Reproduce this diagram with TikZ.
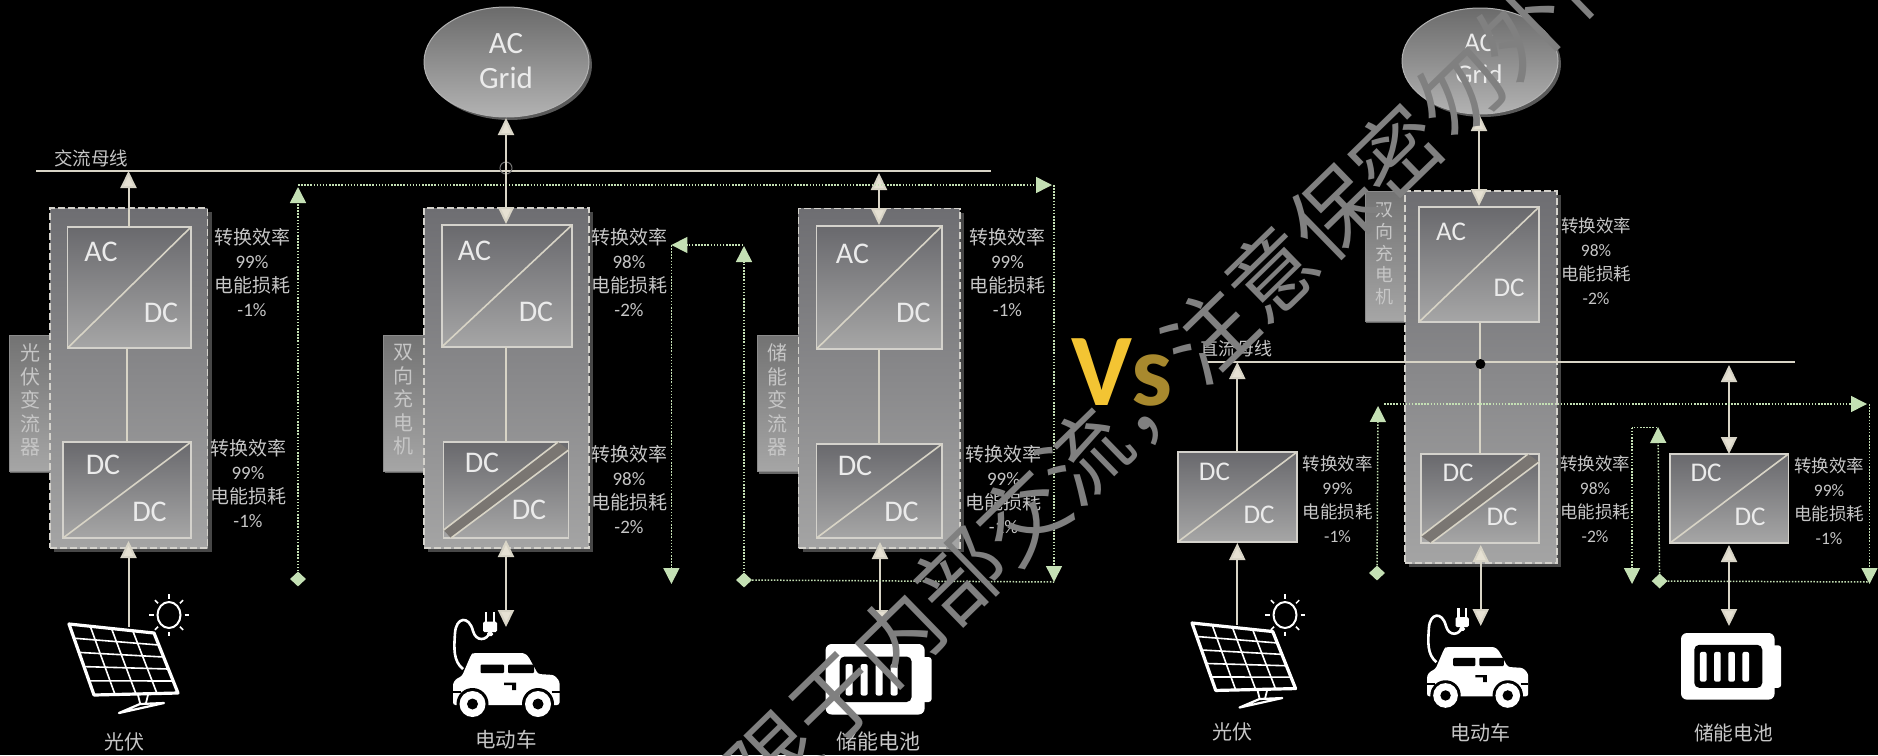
\documentclass[tikz,border=0pt]{standalone}
\usepackage{fontspec}
\setmainfont{Carlito}
\newfontfamily\cjk{Noto Sans CJK SC}
\usetikzlibrary{arrows.meta,calc,shapes.geometric,shadows}
\definecolor{txtc}{HTML}{C6C6C6}
\definecolor{linec}{HTML}{D8D4C6}
\definecolor{tipc}{HTML}{E6E1D3}
\definecolor{grn}{HTML}{C4E0B4}
\definecolor{wmc}{HTML}{808080}
\definecolor{bdr}{HTML}{D4D2CC}
\definecolor{boxtop}{HTML}{69696D}
\definecolor{boxbot}{HTML}{A6A6A6}
\definecolor{bigtop}{HTML}{6E6E72}
\definecolor{bigbot}{HTML}{A4A4A4}
\definecolor{strip}{HTML}{7A7672}
\definecolor{vgold}{HTML}{F3C433}
\definecolor{sgold}{HTML}{A8892E}
\tikzset{
 cbox/.style={rectangle,inner sep=0pt,outer sep=0pt,draw=bdr,line width=1.6pt,top color=boxtop,bottom color=boxbot},
 bigbox/.style={rectangle,inner sep=0pt,outer sep=0pt,draw=bdr,line width=1.4pt,dash pattern=on 7pt off 3pt,drop shadow={shadow xshift=4pt,shadow yshift=-4pt,fill=black!72,opacity=1},top color=bigtop,bottom color=bigbot},
 sidebox/.style={rectangle,inner sep=0pt,outer sep=0pt,draw=black!45,line width=.8pt,drop shadow={shadow xshift=1pt,shadow yshift=-2pt,fill=black!60,opacity=1},top color=black!55,bottom color=black!35},
 gridell/.style={ellipse,inner sep=0pt,outer sep=0pt,draw=black!30,line width=1pt,drop shadow={shadow xshift=3pt,shadow yshift=-3pt,fill=black!65,opacity=1},top color=black!58,bottom color=black!30},
 diag/.style={draw=linec,line width=1.6pt},
 busline/.style={draw=linec,line width=2.4pt},
 pow/.style={draw=linec,line width=2pt,-{Triangle[width=16pt,length=17pt,fill=tipc]}},
 bipow/.style={draw=linec,line width=2pt,{Triangle[width=16pt,length=17pt,fill=tipc]}-{Triangle[width=16pt,length=17pt,fill=tipc]}},
 plainlink/.style={draw=linec,line width=2pt},
 gdot/.style={draw=grn,line width=1.5pt,dash pattern=on 1.5pt off 1.6pt},
 gtip/.style={gdot,-{Triangle[width=16pt,length=16pt,fill=grn,sep=0pt]}},
 gdia/.style={diamond,fill=grn,inner sep=0pt,minimum width=16pt,minimum height=15pt},
 ctext/.style={text=white!92!black,inner sep=0pt,font=\fontsize{30}{32}\selectfont},
 ctext2/.style={text=white!92!black,inner sep=0pt,font=\fontsize{27}{29}\selectfont},
 lbl/.style={text=txtc,inner sep=0pt,align=center},
 solarpic/.pic={
  \coordinate (A) at (0,0);\coordinate (B) at (85,9);\coordinate (C) at (109,69);\coordinate (D) at (25,71);
  \draw[white,line width=3.2pt,line join=round] (A)--(B)--(C)--(D)--cycle;
  \foreach \t in {0.25,0.5,0.75}{\draw[white,line width=1.6pt] ($(A)!\t!(B)$)--($(D)!\t!(C)$);}
  \foreach \t in {0.2,0.4,0.6,0.8}{\draw[white,line width=1.6pt] ($(A)!\t!(D)$)--($(B)!\t!(C)$);}
  \draw[white,line width=1.8pt] (69,71)--(71,79) (79,71)--(77,79);
  \draw[white,line width=2.2pt,line join=round] (71,80)--(95,79)--(50,89)--cycle;
 },
 sunpic/.pic={
  \draw[white,line width=2pt] (0,0) ellipse [x radius=11.5,y radius=13];
  \foreach \a in {0,45,90,135,180,225,270,315}{\draw[white,line width=1.5pt] ({15.5*cos(\a)},{16.5*sin(\a)})--({20*cos(\a)},{21*sin(\a)});}
 },
 carpic/.pic={
  \fill[white,rounded corners=2.5pt] (0,30)--(3,26)--(9,23)--(18,2)--(20,0)--(71,0)--(75,3)--(85,21)--(101,22)--(106.5,28)--(106.5,52)--(0,52)--cycle;
  \fill[black] (19.5,51) circle (16) (85,51) circle (16);
  \fill[white] (19.5,51) circle (13) (85,51) circle (13);
  \fill[black] (19.5,51) circle (5.5) (85,51) circle (5.5);
  \fill[black,rounded corners=1pt] (27.5,11.5) rectangle (51,20) (55,11.5) rectangle (81,20);
  \fill[black] (51,29.5) rectangle (63,32) (59,32) rectangle (63,37);
  \draw[black,line width=2pt] (0,38.5)--(8,38.5) (98.5,38.5)--(106.5,38.5);
  \draw[white,line width=2.6pt] (10,16) .. controls (0,8) and (1,-5) .. (2,-20) .. controls (3,-36) and (16,-38) .. (20,-22) .. controls (23,-11) and (34,-12) .. (37,-21);
  \fill[white,rounded corners=1.5pt] (30,-31.5) rectangle (44,-21) (34,-21) rectangle (40,-17);
  \draw[white,line width=2.8pt] (33,-41)--(33,-31) (41,-41)--(41,-31);
 },
 battpic/.pic={
  \fill[white,rounded corners=6pt] (0,0) rectangle (99,70.5);
  \fill[white,rounded corners=3pt] (92,13) rectangle (106,58);
  \fill[black,rounded corners=5pt] (14,12.5) rectangle (86,58);
  \foreach \x in {20,35,50,65}{\fill[white,rounded corners=2pt] (\x,20) rectangle ++(7,31.5);}
 },
}
\newcommand\cvbox[5]{\node[cbox,minimum width={(#4-#2)*1pt},minimum height={(#5-#3)*1pt}] (#1) at ({(#2+#4)/2},{(#3+#5)/2}) {};}
\newcommand\bgbox[5]{\node[bigbox,minimum width={(#4-#2)*1pt},minimum height={(#5-#3)*1pt}] (#1) at ({(#2+#4)/2},{(#3+#5)/2}) {};}
\newcommand\sdbox[5]{\node[sidebox,minimum width={(#4-#2)*1pt},minimum height={(#5-#3)*1pt}] (#1) at ({(#2+#4)/2},{(#3+#5)/2}) {};}
\newcommand\effnode[6]{\node[lbl,font=\fontsize{#6}{24}\selectfont] (#1) at (#2,#3) {{\cjk 转换效率}\\#4\%\\{\cjk 电能损耗}\\-#5\%};}
\begin{document}
\begin{tikzpicture}[x=1pt,y=-1pt]
\useasboundingbox (0,0) rectangle (1878,755);
\fill[black] (0,0) rectangle (1878,755);
\clip (0,0) rectangle (1878,755);
% ============ LEFT SYSTEM
\coordinate (busAa) at (36,171);\coordinate (busAb) at (991,171);
\draw[busline] (busAa)--(busAb);
\node[lbl,font=\cjk\fontsize{18.5}{20}\selectfont] (busAt) at (91,158) {交流母线};
\node[gridell,minimum width=165pt,minimum height=110pt] (gridA) at (506.5,62) {};
\node[ctext,align=center,font=\fontsize{31}{35}\selectfont] (gridAt) at (506,61) {AC\\Grid};
\node[circle,draw=black!55,line width=1pt,minimum size=12pt,inner sep=0pt] (busAc) at (506,168) {};
% PV column
\sdbox{sA}{9}{335}{50}{471}
\bgbox{bA}{50}{208}{207.5}{548}
\node[lbl,font=\cjk\fontsize{20}{23.5}\selectfont] (sAt) at (30,400) {光\\伏\\变\\流\\器};
\cvbox{aA}{67.6}{227}{191}{348}
\cvbox{dA}{63}{442}{191}{538}
\draw[diag] (aA.south west)--(aA.north east);
\draw[diag] (dA.south west)--(dA.north east);
\draw[plainlink] (aA.south -| 127,0)--(dA.north -| 127,0);
\node[ctext] (aA1) at (101,252) {AC};
\node[ctext] (aA2) at (161,313) {DC};
\node[ctext] (dA1) at (103,465) {DC};
\node[ctext] (dA2) at (149.5,512) {DC};
\effnode{eA1}{252}{272.5}{99}{1}{19}
\effnode{eA2}{248}{484}{99}{1}{19}
\coordinate (pvAtop) at (128.5,227);\coordinate (pvAbus) at (128.5,171);
\draw[pow] (pvAtop)--(pvAbus);
\coordinate (pvApan) at (128.5,627);\coordinate (pvAin) at (128.5,541);
\draw[pow] (pvApan)--(pvAin);
\pic at (69,624) {solarpic};
\pic at (169,615) {sunpic};
\node[lbl,font=\cjk\fontsize{20}{22}\selectfont] (tA1) at (124.5,742) {光伏};
% EV column
\sdbox{sB}{383.5}{335}{424}{471}
\bgbox{bB}{424}{208}{589}{548}
\node[lbl,font=\cjk\fontsize{20}{23.5}\selectfont] (sBt) at (403,400) {双\\向\\充\\电\\机};
\cvbox{aB}{441.7}{225}{572}{347}
\cvbox{dB}{443.6}{442}{568.6}{538}
\draw[diag] (aB.south west)--(aB.north east);
\fill[strip] (443.6,530)--(558,442)--(568.6,450)--(451,538)--cycle;
\draw[diag] (443.6,530)--(558,442) (451,538)--(568.6,450);
\draw[plainlink] (aB.south -| 506,0)--(dB.north -| 506,0);
\node[ctext] (aB1) at (474.5,251) {AC};
\node[ctext] (aB2) at (536,312) {DC};
\node[ctext] (dB1) at (482,463) {DC};
\node[ctext] (dB2) at (529,510) {DC};
\effnode{eB1}{629}{272.5}{98}{2}{19}
\effnode{eB2}{629}{490}{98}{2}{19}
\coordinate (evAg) at (506,118);\coordinate (evAb) at (506,224);
\draw[bipow] (evAg)--(evAb);
\coordinate (evAo) at (506,540);\coordinate (evAc) at (506,627);
\draw[bipow] (evAo)--(evAc);
\pic at (453,653) {carpic};
\node[lbl,font=\cjk\fontsize{20.5}{22}\selectfont] (tA2) at (506,740) {电动车};
% Storage column
\sdbox{sC}{757.6}{335}{798.7}{471.6}
\bgbox{bC}{798.7}{208.7}{960}{548}
\node[lbl,font=\cjk\fontsize{20}{23.5}\selectfont] (sCt) at (777.4,400) {储\\能\\变\\流\\器};
\cvbox{aC}{816.5}{226}{942}{349}
\cvbox{dC}{816.5}{444}{942}{538}
\draw[diag] (aC.south west)--(aC.north east);
\draw[diag] (dC.south west)--(dC.north east);
\draw[plainlink] (aC.south -| 879,0)--(dC.north -| 879,0);
\node[ctext] (aC1) at (852.5,253.5) {AC};
\node[ctext] (aC2) at (913.4,313) {DC};
\node[ctext] (dC1) at (855,465.4) {DC};
\node[ctext] (dC2) at (901.5,512) {DC};
\effnode{eC1}{1007.5}{272.5}{99}{1}{19}
\effnode{eC2}{1003.5}{490}{99}{1}{19}
\coordinate (esAb) at (879,173);\coordinate (esAd) at (879,225);
\draw[bipow] (esAb)--(esAd);
\coordinate (esAo) at (880,542);\coordinate (esAc) at (880,627);
\draw[bipow] (esAo)--(esAc);
\pic at (825.6,644) {battpic};
\node[lbl,font=\cjk\fontsize{21}{23}\selectfont] (tA3) at (878,741) {储能电池};
% dotted loops, left
\node[gdia] (gA1) at (298,579) {};
\coordinate (gA1t) at (298,187);\coordinate (gA1s) at (298,185);\coordinate (gA1e) at (1052,185);
\coordinate (gA1c) at (1054,185);\coordinate (gA1d) at (1054,582);
\draw[gtip] (gA1)--(gA1t);
\draw[gtip] (gA1s)--(gA1e);
\draw[gtip] (gA1c)--(gA1d);
\coordinate (gA2a) at (743,245);\coordinate (gA2b) at (671.4,245);\coordinate (gA2c) at (671.4,584);
\draw[gtip] (gA2a)--(gA2b);
\draw[gtip] (gA2b)--(gA2c);
\node[gdia] (gA3) at (744,580) {};
\coordinate (gA3t) at (744,246);\coordinate (gA3e) at (1054,582);
\draw[gtip] (gA3)--(gA3t);
\draw[gdot] (gA3)--(gA3e);
% ============ VS
\node[inner sep=0pt,anchor=base west,text=vgold,font=\bfseries\fontsize{103}{105}\selectfont] (vsV) at (1071,405) {V};
\node[inner sep=0pt,anchor=base west,text=sgold,font=\bfseries\fontsize{103}{105}\selectfont] (vsS) at (1131,405) {s};
% ============ RIGHT SYSTEM
\node[gridell,minimum width=156pt,minimum height=106pt] (gridB) at (1480,61) {};
\node[ctext2,align=center,font=\fontsize{27}{32}\selectfont] (gridBt) at (1479,59) {AC\\Grid};
\sdbox{sD}{1365}{191}{1405}{321}
\bgbox{bD}{1405}{191}{1557}{563}
\node[lbl,font=\cjk\fontsize{18}{21.7}\selectfont] (sDt) at (1384,254) {双\\向\\充\\电\\机};
\cvbox{aD}{1419}{207}{1539}{322}
\cvbox{dD}{1421}{454}{1539}{543}
\draw[diag] (aD.south west)--(aD.north east);
\fill[strip] (1421,536)--(1528,454)--(1539,462)--(1431,543)--cycle;
\draw[diag] (1421,536)--(1528,454) (1431,543)--(1539,462);
\coordinate (busBa) at (1205,362);\coordinate (busBb) at (1795,362);
\draw[busline] (busBa)--(busBb);
\draw[plainlink] (aD.south -| 1480.4,0)--(dD.north -| 1480.4,0);
\node[fill=black,circle,inner sep=0pt,minimum size=10pt] (busBc) at (1480.4,364) {};
\node[lbl,font=\cjk\fontsize{18}{20}\selectfont] (busBt) at (1236,349) {直流母线};
\node[ctext2] (aD1) at (1451,232) {AC};
\node[ctext2] (aD2) at (1509,288) {DC};
\node[ctext2] (dD1) at (1458,473) {DC};
\node[ctext2] (dD2) at (1502,517) {DC};
\effnode{eD1}{1596}{261.5}{98}{2}{17.5}
\effnode{eD2}{1595}{499}{98}{2}{17.5}
\coordinate (evBg) at (1479,114);\coordinate (evBb) at (1479,206);
\draw[bipow] (evBg)--(evBb);
\coordinate (evBo) at (1480.7,545);\coordinate (evBc) at (1480.7,626);
\draw[bipow] (evBo)--(evBc);
\pic[scale=.95] at (1427,647) {carpic};
\node[lbl,font=\cjk\fontsize{20}{22}\selectfont] (tB2) at (1480.7,733) {电动车};
% right PV
\cvbox{dE}{1177.7}{452}{1297}{542}
\draw[diag] (dE.south west)--(dE.north east);
\node[ctext2] (dE1) at (1214.4,472) {DC};
\node[ctext2] (dE2) at (1259,515) {DC};
\effnode{eE}{1337.5}{499}{99}{1}{17.5}
\coordinate (pvBtop) at (1237.3,452);\coordinate (pvBbus) at (1237.3,362);
\draw[pow] (pvBtop)--(pvBbus);
\coordinate (pvBpan) at (1237.3,625);\coordinate (pvBin) at (1237.3,543);
\draw[pow] (pvBpan)--(pvBin);
\pic[scale=.95] at (1192,623) {solarpic};
\pic at (1285,615) {sunpic};
\node[lbl,font=\cjk\fontsize{20}{22}\selectfont] (tB1) at (1232.6,732) {光伏};
% right storage
\cvbox{dF}{1670}{454}{1788.4}{543}
\draw[diag] (dF.south west)--(dF.north east);
\node[ctext2] (dF1) at (1706,473) {DC};
\node[ctext2] (dF2) at (1750,517) {DC};
\effnode{eF}{1829}{501}{99}{1}{17.5}
\coordinate (esBb) at (1729,365);\coordinate (esBd) at (1729,454);
\draw[bipow] (esBb)--(esBd);
\coordinate (esBo) at (1729,545);\coordinate (esBc) at (1729,626);
\draw[bipow] (esBo)--(esBc);
\pic[scale=.945] at (1681,633) {battpic};
\node[lbl,font=\cjk\fontsize{19.7}{22}\selectfont] (tB3) at (1733.5,733) {储能电池};
% dotted loops, right
\node[gdia] (gB1) at (1377,573) {};
\coordinate (gB1t) at (1378,406);\coordinate (gB1s) at (1384,404);\coordinate (gB1e) at (1867,404);
\coordinate (gB1c) at (1869.5,404);\coordinate (gB1d) at (1869.5,584);
\draw[gtip] (gB1)--(gB1t);
\draw[gtip] (gB1s)--(gB1e);
\draw[gtip] (gB1c)--(gB1d);
\coordinate (gB2a) at (1657,427.7);\coordinate (gB2b) at (1632,427.7);\coordinate (gB2c) at (1632,584);
\draw[gdot] (gB2a)--(gB2b);
\draw[gtip] (gB2b)--(gB2c);
\node[gdia] (gB3) at (1659.6,581) {};
\coordinate (gB3t) at (1658,427);\coordinate (gB3e) at (1869.5,582);
\draw[gtip] (gB3)--(gB3t);
\draw[gdot] (gB3)--(gB3e);
% ============ WATERMARK
\node[text=wmc,inner sep=0pt,rotate=44.2,font=\cjk\fontsize{87}{90}\selectfont] (wm) at (1179,365) {限于内部交流，注意保密勿外传};
\end{tikzpicture}
\end{document}
